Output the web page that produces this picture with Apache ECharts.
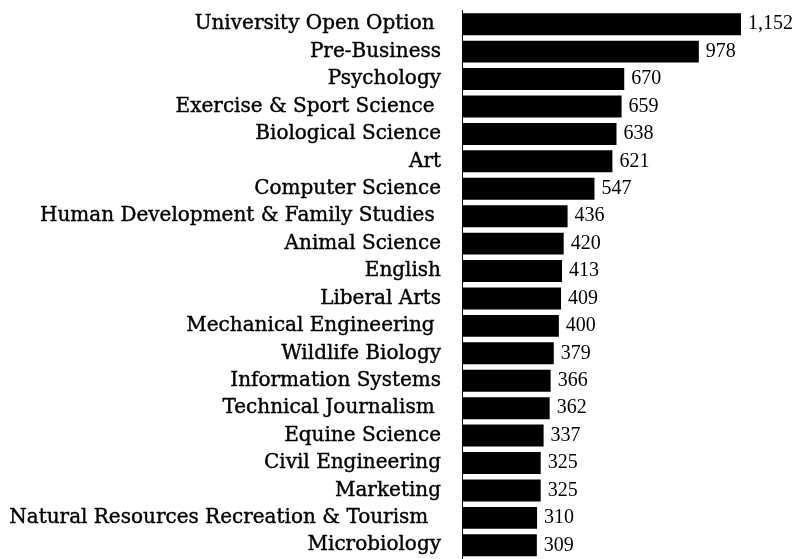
<!DOCTYPE html>
<html>
<head>
<meta charset="utf-8">
<script src="https://cdn.jsdelivr.net/npm/echarts@6/dist/echarts.min.js"></script>
<style>html,body{margin:0;padding:0;background:#fff}#c{width:798px;height:559px}</style>
</head>
<body>
<div id="c"></div>
<script>
const categories = [
  "University Open Option ", "Pre-Business", "Psychology", "Exercise & Sport Science ",
  "Biological Science", "Art", "Computer Science", "Human Development & Family Studies ",
  "Animal Science", "English", "Liberal Arts", "Mechanical Engineering ",
  "Wildlife Biology", "Information Systems", "Technical Journalism ", "Equine Science",
  "Civil Engineering", "Marketing", "Natural Resources Recreation & Tourism  ", "Microbiology"
];
const values = [1152, 978, 670, 659, 638, 621, 547, 436, 420, 413, 409, 400, 379, 366, 362, 337, 325, 325, 310, 309];

const chart = echarts.init(document.getElementById('c'));
chart.setOption({
  animation: false,
  backgroundColor: '#fff',
  grid: { left: 462, right: 45.4, top: 10.5, bottom: -3, containLabel: false },
  xAxis: { type: 'value', min: 0, max: 1200, show: false },
  yAxis: {
    type: 'category', data: categories, inverse: true,
    axisLine: { show: true, lineStyle: { color: '#000', width: 1 } },
    axisTick: { show: false },
    axisLabel: { color: '#000', fontFamily: 'DejaVu Serif', fontSize: 20, margin: 21,
      textBorderColor: '#000', textBorderWidth: 0.4 }
  },
  series: [{
    type: 'bar', data: values, barCategoryGap: '20%',
    itemStyle: { color: '#000' },
    label: {
      show: true, position: 'right', distance: 7, color: '#000',
      fontFamily: 'Liberation Serif', fontSize: 20,
      formatter: p => p.value.toLocaleString('en-US')
    }
  }]
});
</script>
</body>
</html>
